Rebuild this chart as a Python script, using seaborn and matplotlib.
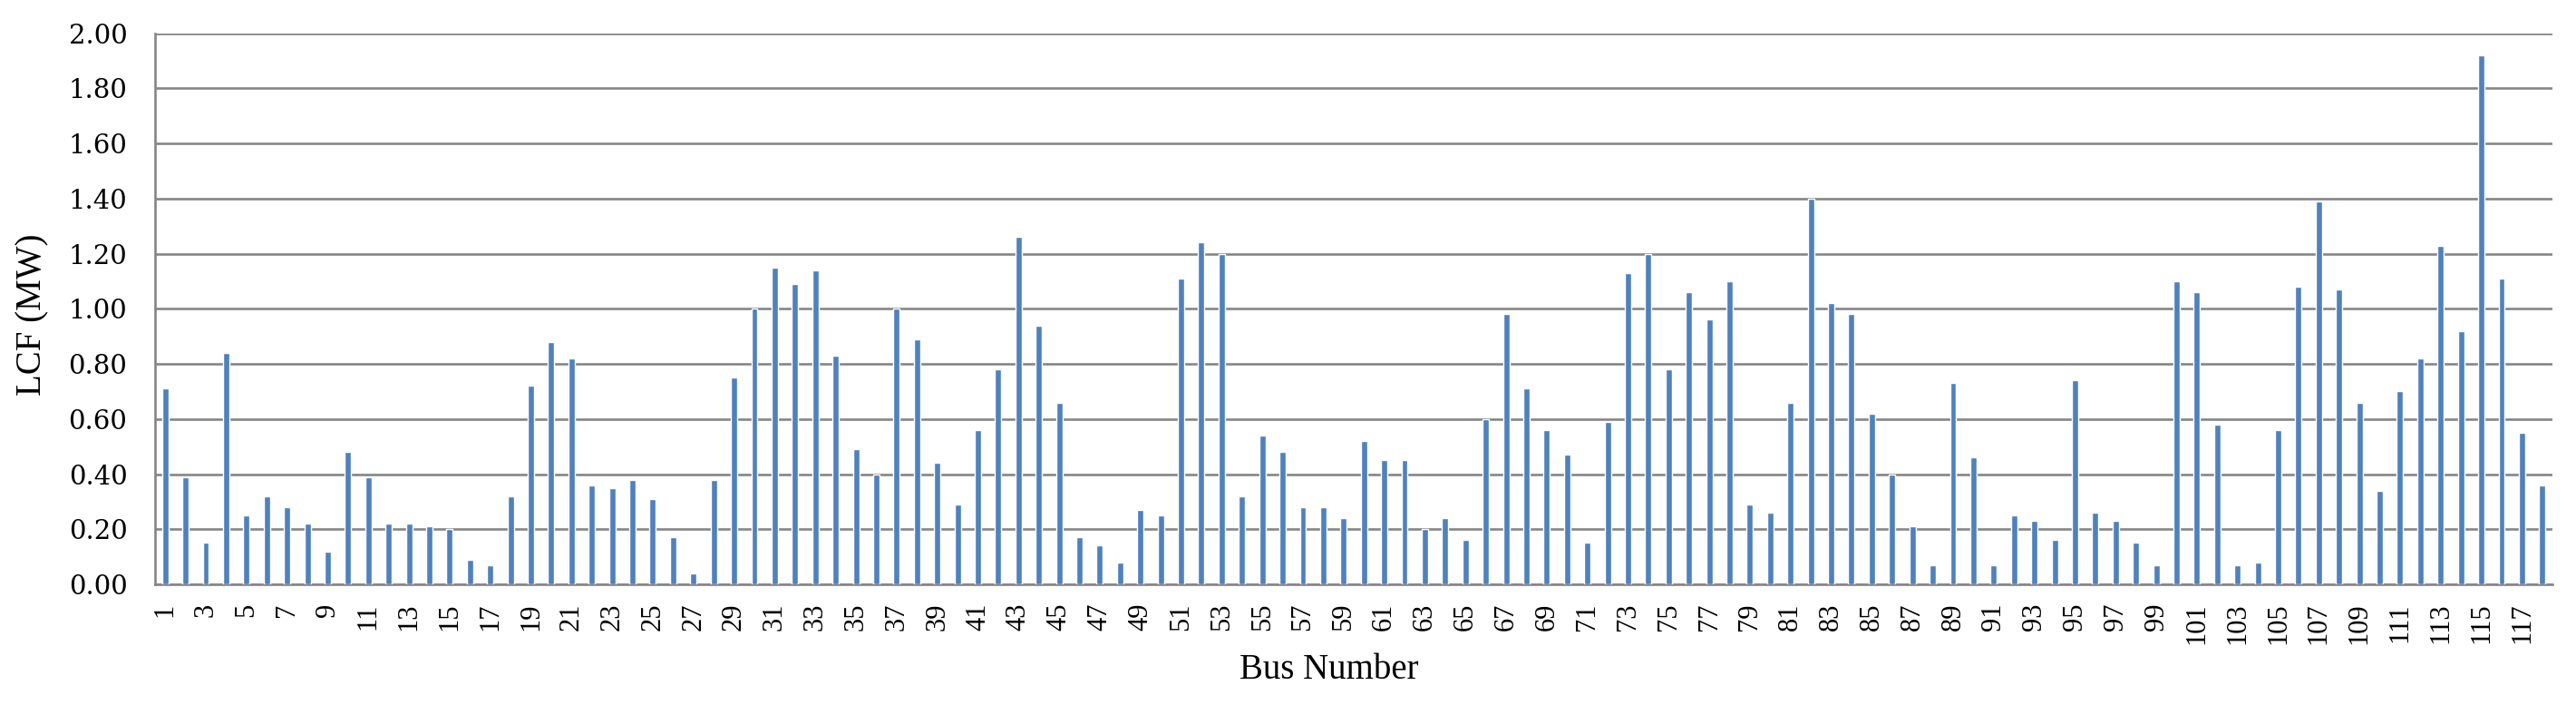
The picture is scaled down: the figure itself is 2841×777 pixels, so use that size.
import matplotlib
matplotlib.use("Agg")
import matplotlib.pyplot as plt
import seaborn as sns
import pandas as pd

bus_numbers = list(range(1, 119))
lcf_mw = [
    0.71, 0.39, 0.15, 0.84, 0.25, 0.32, 0.28, 0.22, 0.12, 0.48,
    0.39, 0.22, 0.22, 0.21, 0.20, 0.09, 0.07, 0.32, 0.72, 0.88,
    0.82, 0.36, 0.35, 0.38, 0.31, 0.17, 0.04, 0.38, 0.75, 1.00,
    1.15, 1.09, 1.14, 0.83, 0.49, 0.40, 1.00, 0.89, 0.44, 0.29,
    0.56, 0.78, 1.26, 0.94, 0.66, 0.17, 0.14, 0.08, 0.27, 0.25,
    1.11, 1.24, 1.20, 0.32, 0.54, 0.48, 0.28, 0.28, 0.24, 0.52,
    0.45, 0.45, 0.20, 0.24, 0.16, 0.60, 0.98, 0.71, 0.56, 0.47,
    0.15, 0.59, 1.13, 1.20, 0.78, 1.06, 0.96, 1.10, 0.29, 0.26,
    0.66, 1.40, 1.02, 0.98, 0.62, 0.40, 0.21, 0.07, 0.73, 0.46,
    0.07, 0.25, 0.23, 0.16, 0.74, 0.26, 0.23, 0.15, 0.07, 1.10,
    1.06, 0.58, 0.07, 0.08, 0.56, 1.08, 1.39, 1.07, 0.66, 0.34,
    0.70, 0.82, 1.23, 0.92, 1.92, 1.11, 0.55, 0.36,
]
y_ticks = [0.0, 0.2, 0.4, 0.6, 0.8, 1.0, 1.2, 1.4, 1.6, 1.8, 2.0]

df = pd.DataFrame({"bus": [str(b) for b in bus_numbers], "lcf": lcf_mw})

sns.set_theme(style="white")
plt.rcParams["font.family"] = ["Liberation Serif", "DejaVu Serif"]

W, H = 2841, 777
fig = plt.figure(figsize=(W / 100, H / 100), dpi=100)
left, right, top, bottom = 171, 2815, 36.7, 644
ax = fig.add_axes([left / W, 1 - bottom / H, (right - left) / W, (bottom - top) / H])

grid_col = "#868686"
lw = 1.9
sns.barplot(data=df, x="bus", y="lcf", order=df["bus"], color="#4F81BD",
            width=0.31, saturation=1, ax=ax, zorder=3)

ax.set_xlim(-0.5, len(bus_numbers) - 0.5)
ax.set_ylim(0, 2.0)
ax.set_yticks(y_ticks)
ax.set_yticklabels([f"{v:.2f}" for v in y_ticks], fontfamily="DejaVu Serif", fontsize=21)
ax.yaxis.grid(True, color=grid_col, linewidth=lw, zorder=0)
ax.set_axisbelow(True)

xt = list(range(0, len(bus_numbers), 2))
ax.set_xticks(xt)
ax.set_xticklabels([str(bus_numbers[i]) for i in xt], rotation=90, fontsize=22)
ax.tick_params(axis="x", length=0, pad=15, colors="black")
ax.tick_params(axis="y", length=8, width=lw, color=grid_col, pad=14, direction="out",
               labelcolor="black")

for s in ["top", "right"]:
    ax.spines[s].set_visible(False)
for s in ["left", "bottom"]:
    ax.spines[s].set_color(grid_col)
    ax.spines[s].set_linewidth(lw)

ax.set_xlabel("Bus Number", fontsize=28, color="black")
ax.set_ylabel("LCF (MW)", fontsize=28, color="black")
ax.xaxis.set_label_coords((1466 - left) / (right - left), -(720 - bottom) / (bottom - top))
ax.yaxis.set_label_coords(-(left - 54) / (right - left), 0.49)

fig.savefig("out.png", dpi=100, facecolor="white")
